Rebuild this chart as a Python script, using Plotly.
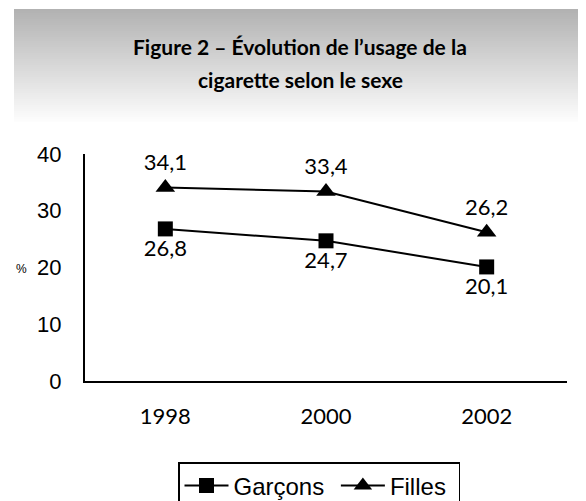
import plotly.graph_objects as go

years = ["1998", "2000", "2002"]
garcons = [26.8, 24.7, 20.1]
filles = [34.1, 33.4, 26.2]
y_ticks = [0, 10, 20, 30, 40]
title_lines = ["Figure 2 – Évolution de l’usage de la", "cigarette selon le sexe"]
series_names = ["Garçons", "Filles"]

# page is offset by the default 8px body margin
OFF = 8
W, H = 578, 520
L = 85 - OFF
T = 154 - OFF
R = W - (567 - OFF)
B = H - (381 - OFF)
pw, ph = W - L - R, H - T - B

def px_x(px):  # page x -> paper
    return (px - OFF - L) / pw

def px_y(py):  # page y -> paper
    return (H - B - (py - OFF)) / ph

def fmt(v):
    return f"{v:.1f}".replace(".", ",")

label_font = dict(family="Lato, sans-serif", size=22, color="black")
arial = "Liberation Sans, Arial, sans-serif"
NB = "\u00a0"

fig = go.Figure()
fig.add_trace(go.Scatter(
    x=years, y=garcons, name=series_names[0] + NB, mode="lines+markers+text",
    line=dict(color="black", width=2),
    marker=dict(symbol="square", size=15, color="black"),
    text=[fmt(v) for v in garcons], textposition="bottom center",
    textfont=label_font,
))
fig.add_trace(go.Scatter(
    x=years, y=filles, name=series_names[1] + NB, mode="lines+markers+text",
    line=dict(color="black", width=2),
    marker=dict(symbol="triangle-up", size=17, color="black"),
    text=[fmt(v) for v in filles], textposition="top center",
    textfont=label_font,
))

# header gradient band
shapes = []
top_px, bot_px, left_px = 9, 121, 14
n = 56
step = (bot_px - top_px) / n
for i in range(n):
    t = i / (n - 1)
    c = int(round(178 + (252 - 178) * t))
    y0 = top_px + i * step
    y1 = y0 + step + 0.6
    shapes.append(dict(type="rect", xref="paper", yref="paper",
                       x0=px_x(left_px), x1=px_x(600),
                       y0=px_y(y1), y1=px_y(y0),
                       line=dict(width=0), fillcolor=f"rgb({c},{c},{c})",
                       layer="below"))

annotations = []
for line, ypx in zip(title_lines, [47, 79]):
    annotations.append(dict(
        text=f"<b>{line}</b>", xref="paper", yref="paper",
        x=px_x(300), y=px_y(ypx), xanchor="center", yanchor="middle",
        showarrow=False, font=dict(family="Lato, sans-serif", size=21, color="black")))
annotations.append(dict(
    text="%", xref="paper", yref="paper", x=px_x(21), y=px_y(269),
    xanchor="center", yanchor="middle", showarrow=False,
    font=dict(family=arial, size=12, color="black")))

fig.update_layout(
    width=W, height=H,
    margin=dict(l=L, r=R, t=T, b=B, autoexpand=False),
    paper_bgcolor="white", plot_bgcolor="white",
    shapes=shapes,
    showlegend=True,
    legend=dict(orientation="h", x=px_x(178), y=px_y(462), xanchor="left", yanchor="top",
                bordercolor="black", borderwidth=1.5,
                font=dict(family=arial, size=24, color="black"),
                itemwidth=44, tracegroupgap=0),
    xaxis=dict(type="category", range=[-0.5, 2.5], showgrid=False, zeroline=False,
               showline=True, linecolor="black", linewidth=2, ticks="",
               ticklabelstandoff=15,
               tickfont=dict(family="Lato, sans-serif", size=22, color="black")),
    yaxis=dict(range=[0, 40], tickvals=y_ticks, showgrid=False, zeroline=False,
               showline=True, linecolor="black", linewidth=2, ticks="",
               ticklabelstandoff=17,
               tickfont=dict(family=arial, size=22, color="black")),
    annotations=annotations,
)

fig.write_html("out.html")
